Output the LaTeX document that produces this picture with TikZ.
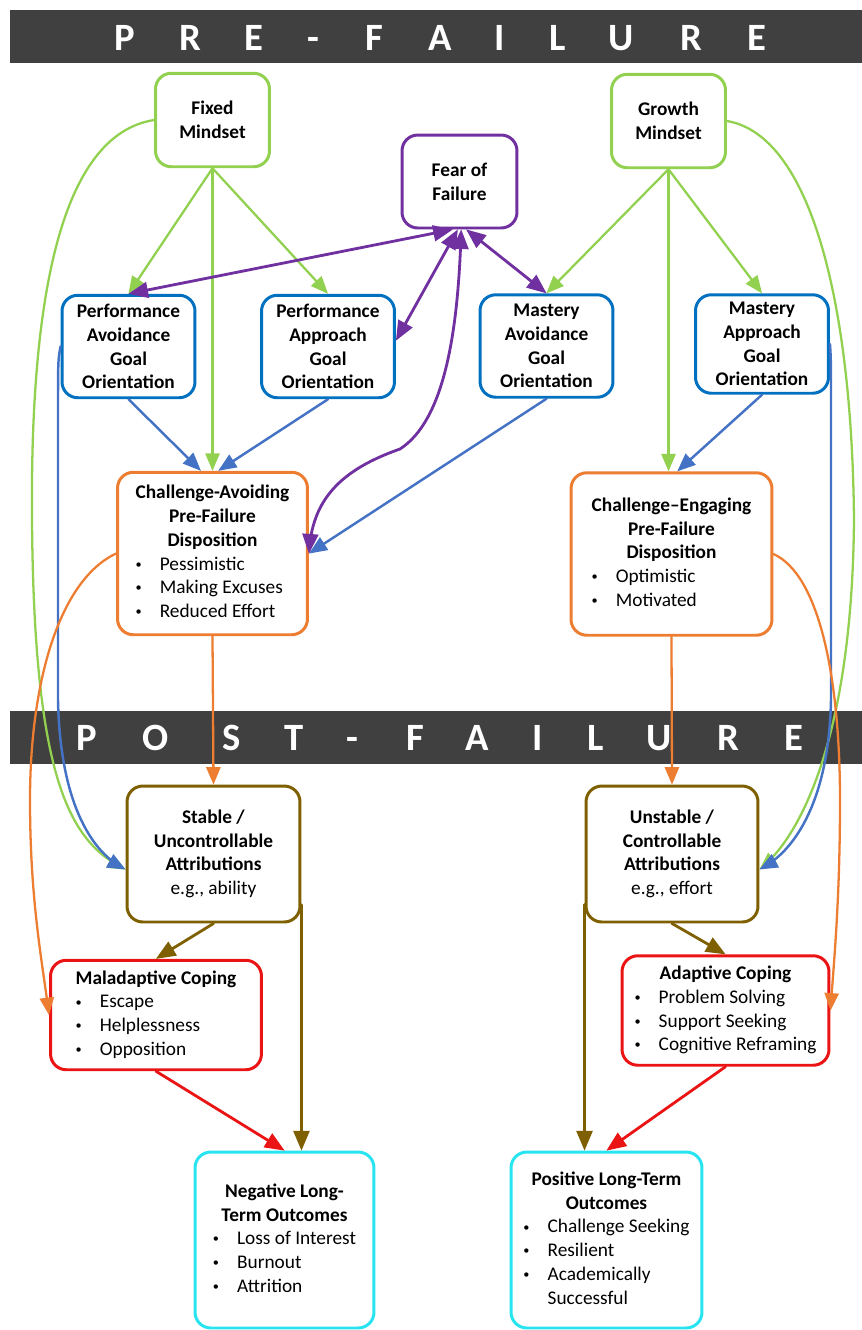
\documentclass[tikz,border=0pt]{standalone}
\usepackage{fontspec}
\setmainfont{Carlito}
\usetikzlibrary{arrows}

\definecolor{bannergray}{RGB}{64,64,64}
\definecolor{mindgreen}{RGB}{146,208,80}
\definecolor{fearpurple}{RGB}{112,48,160}
\definecolor{goalblue}{RGB}{0,112,192}
\definecolor{arrowblue}{RGB}{68,114,196}
\definecolor{disporange}{RGB}{237,125,49}
\definecolor{attrbrown}{RGB}{127,96,0}
\definecolor{copered}{RGB}{235,20,20}
\definecolor{outcyan}{RGB}{40,228,240}

\newcommand{\itm}[1]{\makebox[1.25em][l]{\raisebox{0.2ex}{\scriptsize\textbullet}}#1}
\newcommand{\ttl}[1]{\multicolumn{1}{@{}c@{}}{\textbf{#1}}}

\begin{document}
\begin{tikzpicture}[x=0.02cm,y=-0.02cm,line cap=round,line join=round,>=triangle 45,
	box/.style={draw,line width=1.7pt,rounded corners=9pt,fill=white,align=center,inner sep=1pt,font=\fontsize{11}{13.5}\selectfont},
	mindbox/.style={box,draw=mindgreen,minimum width=2.28cm,minimum height=1.87cm},
	fearbox/.style={box,draw=fearpurple,minimum width=2.3cm,minimum height=1.86cm},
	goalbox/.style={box,draw=goalblue,minimum width=2.66cm,minimum height=2.05cm},
	dispbox/.style={box,draw=disporange,minimum height=3.25cm},
	attrbox/.style={box,draw=attrbrown,minimum width=3.46cm,minimum height=2.72cm},
	copebox/.style={box,draw=copered,minimum height=2.19cm},
	outbox/.style={box,draw=outcyan,minimum height=3.52cm},
	bannertxt/.style={anchor=base,text=white,font=\fontsize{22}{26}\selectfont\bfseries,inner sep=0pt},
	greenarr/.style={->,draw=mindgreen,line width=1.3pt},
	bluearr/.style={->,draw=arrowblue,line width=1.4pt},
	purplearr/.style={<->,draw=fearpurple,line width=1.6pt},
	orangearr/.style={->,draw=disporange,line width=1.3pt},
	brownarr/.style={->,draw=attrbrown,line width=1.6pt},
	redarr/.style={->,draw=copered,line width=1.6pt}]
	\useasboundingbox (0,0) rectangle (862,1330);
	
	% banners
	\fill[bannergray] (10,10) rectangle (862,63);
	\foreach \x/\ch in {125/P,190/R,254/E,313/-,374/F,440/A,500/I,558/L,621/U,691/R,757/E}
		\node[bannertxt] (pre\x) at (\x,50) {\ch};
	\fill[bannergray] (10,711) rectangle (862,764);
	\foreach \x/\ch in {87/P,156/O,232/S,294/T,352/-,415/F,477/A,538/I,596/L,659/U,728/R,794/E}
		\node[bannertxt] (post\x) at (\x,750) {\ch};
	
	% pre-failure boxes
	\node[mindbox] (fixed) at (212.5,120) {\textbf{Fixed}\\\textbf{Mindset}};
	\node[mindbox] (growth) at (668.5,121) {\textbf{Growth}\\\textbf{Mindset}};
	\node[fearbox] (fear) at (459.5,181.5) {\textbf{Fear of}\\\textbf{Failure}};
	\node[goalbox] (perfavoid) at (128.5,346.5) {\textbf{Performance}\\\textbf{Avoidance}\\\textbf{Goal}\\\textbf{Orientation}};
	\node[goalbox] (perfappr) at (328,346.5) {\textbf{Performance}\\\textbf{Approach}\\\textbf{Goal}\\\textbf{Orientation}};
	\node[goalbox] (mastavoid) at (546.5,346) {\textbf{Mastery}\\\textbf{Avoidance}\\\textbf{Goal}\\\textbf{Orientation}};
	\node[goalbox,minimum height=1.97cm] (mastappr) at (762,344) {\textbf{Mastery}\\\textbf{Approach}\\\textbf{Goal}\\\textbf{Orientation}};
	\node[dispbox,minimum width=3.8cm] (challavoid) at (212.5,553.5) {\begin{tabular}{@{}l@{}}
		\ttl{Challenge-Avoiding}\\ \ttl{Pre-Failure}\\ \ttl{Disposition}\\
		\itm{Pessimistic}\\ \itm{Making Excuses}\\ \itm{Reduced Effort}\end{tabular}};
	\node[dispbox,minimum width=4.02cm] (challeng) at (671.5,554) {\begin{tabular}{@{}l@{}}
		\ttl{Challenge--Engaging}\\ \ttl{Pre-Failure}\\ \ttl{Disposition}\\
		\itm{Optimistic}\\ \itm{Motivated}\end{tabular}};
	
	% post-failure boxes
	\node[attrbox] (stable) at (213.5,854) {\textbf{Stable /}\\\textbf{Uncontrollable}\\\textbf{Attributions}\\e.g., ability};
	\node[attrbox,minimum width=3.44cm] (unstable) at (672,854) {\textbf{Unstable /}\\\textbf{Controllable}\\\textbf{Attributions}\\e.g., effort};
	\node[copebox,minimum width=4.22cm] (maladapt) at (156,1015) {\begin{tabular}{@{}l@{}}
		\ttl{Maladaptive Coping}\\ \itm{Escape}\\ \itm{Helplessness}\\ \itm{Opposition}\end{tabular}};
	\node[copebox,minimum width=4.14cm] (adapt) at (725.5,1010.5) {\begin{tabular}{@{}l@{}}
		\ttl{Adaptive Coping}\\ \itm{Problem Solving}\\ \itm{Support Seeking}\\ \itm{Cognitive Reframing}\end{tabular}};
	\node[outbox,minimum width=3.58cm] (negative) at (284.5,1240) {\begin{tabular}{@{}l@{}}
		\ttl{Negative Long-}\\ \ttl{Term Outcomes}\\ \itm{Loss of Interest}\\ \itm{Burnout}\\ \itm{Attrition}\end{tabular}};
	\node[outbox,minimum width=3.82cm] (positive) at (606.5,1240) {\begin{tabular}{@{}l@{}}
		\ttl{Positive Long-Term}\\ \ttl{Outcomes}\\ \itm{Challenge Seeking}\\ \itm{Resilient}\\ \itm{Academically}\\ \hspace{1.25em}Successful\end{tabular}};
	
	% mindset arrows
	\draw[greenarr] (fixed.south) -- (perfavoid.north);
	\draw[greenarr] (fixed.south) -- (perfappr.north);
	\draw[greenarr] (fixed.south) -- (fixed.south |- challavoid.north);
	\draw[greenarr] (growth.south) -- (mastavoid.north);
	\draw[greenarr] (growth.south) -- (mastappr.north);
	\draw[greenarr] (growth.south) -- (growth.south |- challeng.north);
	\draw[greenarr] (fixed.west) .. controls (60,135) and (30,300) .. (32,520) .. controls (34,780) and (70,840) .. (stable.190);
	\draw[greenarr] (growth.east) .. controls (810,135) and (852,300) .. (854,520) .. controls (852,750) and (795,840) .. (unstable.-10);
	
	% goal orientation arrows
	\draw[bluearr] (perfavoid.south) -- (challavoid.98);
	\draw[bluearr] (perfappr.south) -- (challavoid.86);
	\draw[bluearr] (mastavoid.south) -- (challavoid.east);
	\draw[bluearr] (mastappr.south) -- (challeng.86);
	\draw[bluearr] (perfavoid.west) .. controls (58,360) .. (58,420) -- (58,700) .. controls (60,800) and (90,850) .. (stable.190);
	\draw[bluearr] (mastappr.east) .. controls (831,360) .. (831,420) -- (831,700) .. controls (829,800) and (795,850) .. (unstable.-10);
	
	% fear of failure
	\draw[purplearr] (fear.262) -- (perfavoid.north);
	\draw[purplearr] (fear.268) -- (perfappr.5);
	\draw[purplearr] (fear.278) -- (mastavoid.north);
	\draw[purplearr] (fear.272) .. controls (458,330) and (445,420) .. (400,449) .. controls (340,470) and (313,500) .. (challavoid.east);
	
	% dispositions
	\draw[orangearr] (challavoid.south) -- (stable.north);
	\draw[orangearr] (challeng.south) -- (unstable.north);
	\draw[orangearr] (challavoid.west) .. controls (60,580) and (30,680) .. (30,800) .. controls (30,900) and (42,960) .. (maladapt.west);
	\draw[orangearr] (challeng.east) .. controls (820,575) and (840,680) .. (840,800) .. controls (840,900) and (834,960) .. (adapt.east);
	
	% attributions and coping
	\draw[brownarr] (stable.south) -- (maladapt.north);
	\draw[brownarr] (unstable.south) -- (adapt.north);
	\draw[brownarr] (stable.-30) -- (stable.-30 |- negative.north);
	\draw[brownarr] (unstable.210) -- (unstable.210 |- positive.north);
	\draw[redarr] (maladapt.south) -- (negative.north);
	\draw[redarr] (adapt.south) -- (positive.north);
\end{tikzpicture}
\end{document}
